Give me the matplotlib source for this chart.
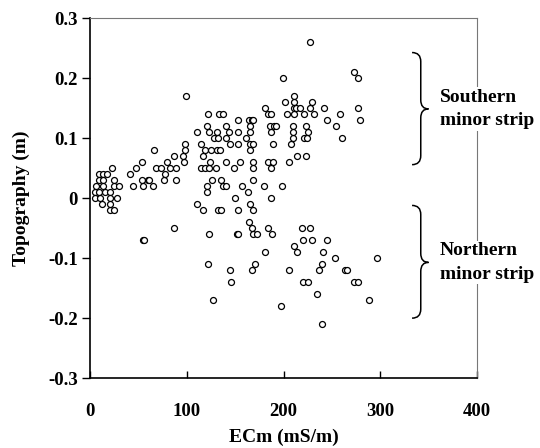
import matplotlib.pyplot as plt
from matplotlib.path import Path
from matplotlib.patches import PathPatch

# ECm (mS/m) and topography (m)
ecm = [4.6, 4.6, 6.4, 9.3, 9.3, 9.3, 11.8, 12.9, 12.9, 12.9, 10, 17, 15, 22.5,
       20.7, 20.7, 20.7, 25, 25, 25, 28, 30, 21,
       41, 44, 47, 53.6, 53.6, 54.6, 60, 61, 64.6, 65.7, 68, 73.6, 76, 77, 79,
       82.5, 87, 89, 88.6, 87, 54.6, 55.5, 95.7, 96.8, 98, 98, 99,
       111, 111, 114.6, 114.6, 116.4, 116.4, 119, 119, 120.7, 120.7, 122, 120.7,
       123, 123, 124, 123, 122, 125, 126, 127, 128, 130, 131, 131, 132.5, 134,
       133.6, 137, 132.5, 135, 135, 137, 141, 141, 141, 141, 143.6, 144.6,
       144.6, 146, 149, 150, 153, 153, 153, 153, 152, 153, 154.6, 157, 160.7,
       163, 164, 165, 165, 165, 165, 165, 164, 167, 168, 168, 168, 168, 168,
       167, 168, 167, 170, 172.5, 168,
       180, 181, 181, 184, 184, 187, 186, 187, 184, 187, 187, 188, 189, 189,
       190, 192, 199, 198.6, 197, 202, 204, 205.7, 205.7, 207.5, 210, 210, 210,
       210.7, 210.7, 210.7, 210.7, 210.7, 213, 213.6, 214, 217, 219, 220, 220,
       221, 221, 223, 224, 223, 225, 225, 227, 227, 227, 230, 230, 232, 235,
       237, 240, 241, 240, 242, 245, 245, 253, 254, 258, 261, 264, 266, 273,
       277, 273, 277, 277, 279, 288.6, 297]
topo = [0.01, 0.0, 0.02, 0.04, 0.03, 0.01, -0.01, 0.04, 0.03, 0.02, 0.0, 0.04,
        0.01, 0.05, 0.01, 0.0, -0.02, 0.03, 0.02, -0.02, 0.0, 0.02, -0.01,
        0.04, 0.02, 0.05, 0.06, 0.03, 0.02, 0.03, 0.03, 0.02, 0.08, 0.05, 0.05,
        0.03, 0.04, 0.06, 0.05, 0.07, 0.05, 0.03, -0.05, -0.07, -0.07, 0.07,
        0.06, 0.09, 0.08, 0.17,
        -0.01, 0.11, 0.09, 0.05, -0.02, 0.07, 0.08, 0.05, 0.02, 0.01, 0.14,
        0.12, 0.11, 0.05, 0.06, -0.06, -0.11, 0.08, 0.03, -0.17, 0.10, 0.05,
        0.11, 0.08, 0.10, 0.08, 0.14, 0.14, -0.02, -0.02, 0.03, 0.02, 0.12,
        0.10, 0.06, 0.02, 0.11, 0.09, -0.12, -0.14, 0.05, 0.0, 0.11, 0.13,
        0.09, -0.02, -0.06, -0.06, 0.06, 0.02, 0.10, 0.01, 0.13, 0.12, 0.11,
        0.09, 0.08, -0.01, -0.04, 0.13, 0.09, 0.06, 0.05, 0.03, -0.02, -0.05,
        -0.06, -0.12, -0.11, -0.06, 0.13,
        0.02, 0.15, -0.09, -0.05, 0.14, 0.14, 0.12, 0.11, 0.06, 0.05, 0.0,
        -0.06, 0.09, 0.06, 0.12, 0.12, 0.20, 0.02, -0.18, 0.16, 0.14, 0.06,
        -0.12, 0.09, 0.10, 0.12, 0.11, 0.17, 0.16, 0.15, 0.14, -0.08, 0.15,
        0.07, -0.09, 0.15, -0.05, -0.07, -0.14, 0.14, 0.10, 0.12, 0.10, 0.07,
        -0.14, 0.11, 0.26, -0.05, 0.15, -0.07, 0.16, 0.14, -0.16, -0.12, -0.11,
        -0.09, -0.21, 0.15, -0.07, 0.13, -0.10, 0.12, 0.14, 0.10, -0.12, -0.12,
        -0.14, -0.14, 0.21, 0.20, 0.15, 0.13, -0.17, -0.10]

xticks = [0, 100, 200, 300, 400]
yticks = [-0.3, -0.2, -0.1, 0, 0.1, 0.2, 0.3]
ytick_labels = ['-0.3', '-0.2', '-0.1', '0', '0.1', '0.2', '0.3']

# brace spans (bottom, tip, top) and group labels
groups = [("Southern\nminor strip", 0.056, 0.149, 0.243),
          ("Northern\nminor strip", -0.200, -0.107, -0.012)]

plt.rcParams['font.family'] = ['Liberation Serif', 'DejaVu Serif']
plt.rcParams['font.weight'] = 'bold'

fig = plt.figure(figsize=(5.4, 4.48), dpi=100)
ax = fig.add_axes([0.167, 0.156, 0.716, 0.803])

ax.plot(ecm, topo, 'o', mfc='white', mec='black', ms=4.3, mew=0.9,
        linestyle='none', zorder=3)

ax.set_xlim(0, 400)
ax.set_ylim(-0.3, 0.3)
ax.set_xticks(xticks)
ax.set_yticks(yticks)
ax.set_yticklabels(ytick_labels)
ax.tick_params(axis='x', direction='in', length=5, width=1, pad=18,
               labelsize=13.5)
ax.tick_params(axis='y', direction='out', length=6, width=1, pad=3,
               labelsize=13.5)
for lab in ax.get_xticklabels() + ax.get_yticklabels():
    lab.set_fontweight('bold')

for s in ['left', 'bottom']:
    ax.spines[s].set_linewidth(1.2)
for s in ['top', 'right']:
    ax.spines[s].set_linewidth(0.8)
    ax.spines[s].set_color('#777777')

ax.set_xlabel('ECm (mS/m)', fontsize=14, fontweight='bold', labelpad=6)
ax.set_ylabel('Topography (m)', fontsize=14, fontweight='bold', labelpad=13)


def brace(ax, x0, x1, x2, yb, ym, yt):
    d = (yt - yb) * 0.08
    verts = [(x0, yt), (x1, yt), (x1, yt - d),
             (x1, ym + d),
             (x1, ym), (x2, ym),
             (x1, ym), (x1, ym - d),
             (x1, yb + d),
             (x1, yb), (x0, yb)]
    codes = [Path.MOVETO, Path.CURVE3, Path.CURVE3,
             Path.LINETO,
             Path.CURVE3, Path.CURVE3,
             Path.CURVE3, Path.CURVE3,
             Path.LINETO,
             Path.CURVE3, Path.CURVE3]
    ax.add_patch(PathPatch(Path(verts, codes), fill=False, lw=1.1,
                           color='black', clip_on=False, zorder=4))


for label, yb, ym, yt in groups:
    brace(ax, 333, 342, 350, yb, ym, yt)
    ax.text(362, ym, label, ha='left', va='center', fontsize=14,
            fontweight='bold', linespacing=1.5, zorder=5, clip_on=False,
            bbox=dict(facecolor='white', edgecolor='none', pad=1))

fig.savefig('out.png', dpi=100)
